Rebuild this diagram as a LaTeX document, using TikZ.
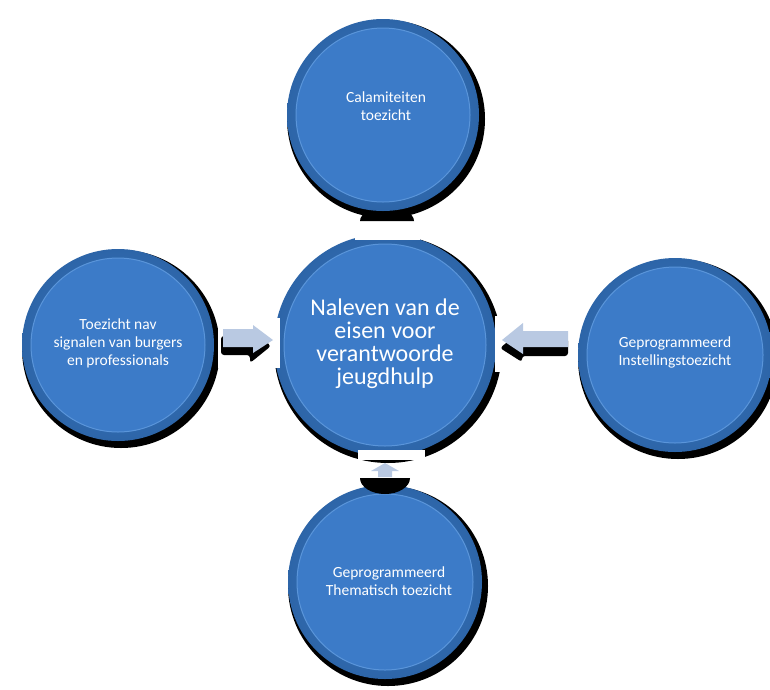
\documentclass[tikz,border=0pt]{standalone}
\usepackage{fontspec}
\setmainfont{Carlito}
\definecolor{cblue}{HTML}{3C7BC8}
\definecolor{cdark}{HTML}{2D65A8}
\definecolor{cedge}{HTML}{5A95DA}
\definecolor{arrowfill}{HTML}{B9C9E2}
\tikzset{
  bubble/.style={circle, minimum size=#1, draw=none, text=white, align=center, font=\fontsize{15.5}{18}\selectfont},
  bigtext/.style={font=\fontsize{24}{23}\selectfont},
}
\newcommand{\glossy}[3]{%
  \fill[black] (#1) ++(3,4) circle (#2+3);
  \shade[inner color=cblue, outer color=cdark] (#1) circle (#2);
  \fill[cblue] (#1) circle (#3);
  \draw[cedge, line width=1pt] (#1) circle (#3);
}
\begin{document}
\begin{tikzpicture}[x=1pt,y=-1pt]
\useasboundingbox (0,0) rectangle (770,689);
% top dome shadow
\fill[black] (360,221) arc[start angle=180, end angle=360, x radius=27, y radius=14] -- cycle;
\glossy{383,115}{96}{87}
\glossy{385,345}{111}{101}
\glossy{118,345}{96}{87}
\glossy{675,355}{97}{88}
\glossy{385,582}{97}{88}
\fill[white] (355,226) rectangle (420,240);
\node[bubble=170pt] (top) at (386,106) {Calamiteiten\\toezicht};
\node[bubble=190pt, bigtext] (mid) at (385,344) {Naleven van de\\eisen voor\\verantwoorde\\jeugdhulp};
\node[bubble=170pt] (left) at (118,343) {Toezicht nav\\signalen van burgers\\en professionals};
\node[bubble=170pt] (right) at (675,352) {Geprogrammeerd\\Instellingstoezicht};
\node[bubble=170pt] (bot) at (389,581) {Geprogrammeerd\\Thematisch toezicht};
% left arrow
\fill[white] (218,318) rectangle (280,368);
\fill[black, rounded corners=3pt] (221,336) -- (250,336) -- (250,328) -- (271,346) -- (250,363) -- (250,355) -- (221,355) -- cycle;
\fill[arrowfill] (223,329) -- (253,329) -- (253,325) -- (273,340) -- (253,353) -- (253,347) -- (223,347) -- cycle;
% right arrow
\fill[white] (495,316) rectangle (570,372);
\fill[black, rounded corners=3pt] (568,338) -- (522,338) -- (522,330) -- (500,348) -- (522,362) -- (522,356) -- (568,356) -- cycle;
\fill[arrowfill] (568,331) -- (523,331) -- (523,323) -- (502,340) -- (523,354) -- (523,347) -- (568,347) -- cycle;
% bottom arrow
\fill[white] (358,450) rectangle (425,460);
\fill[black] (360,478) arc[start angle=180, end angle=0, x radius=25, y radius=16] -- cycle;
\fill[arrowfill] (385,463) -- (399,471) -- (392,471) -- (392,477) -- (378,477) -- (378,471) -- (371,471) -- cycle;
\end{tikzpicture}
\end{document}
